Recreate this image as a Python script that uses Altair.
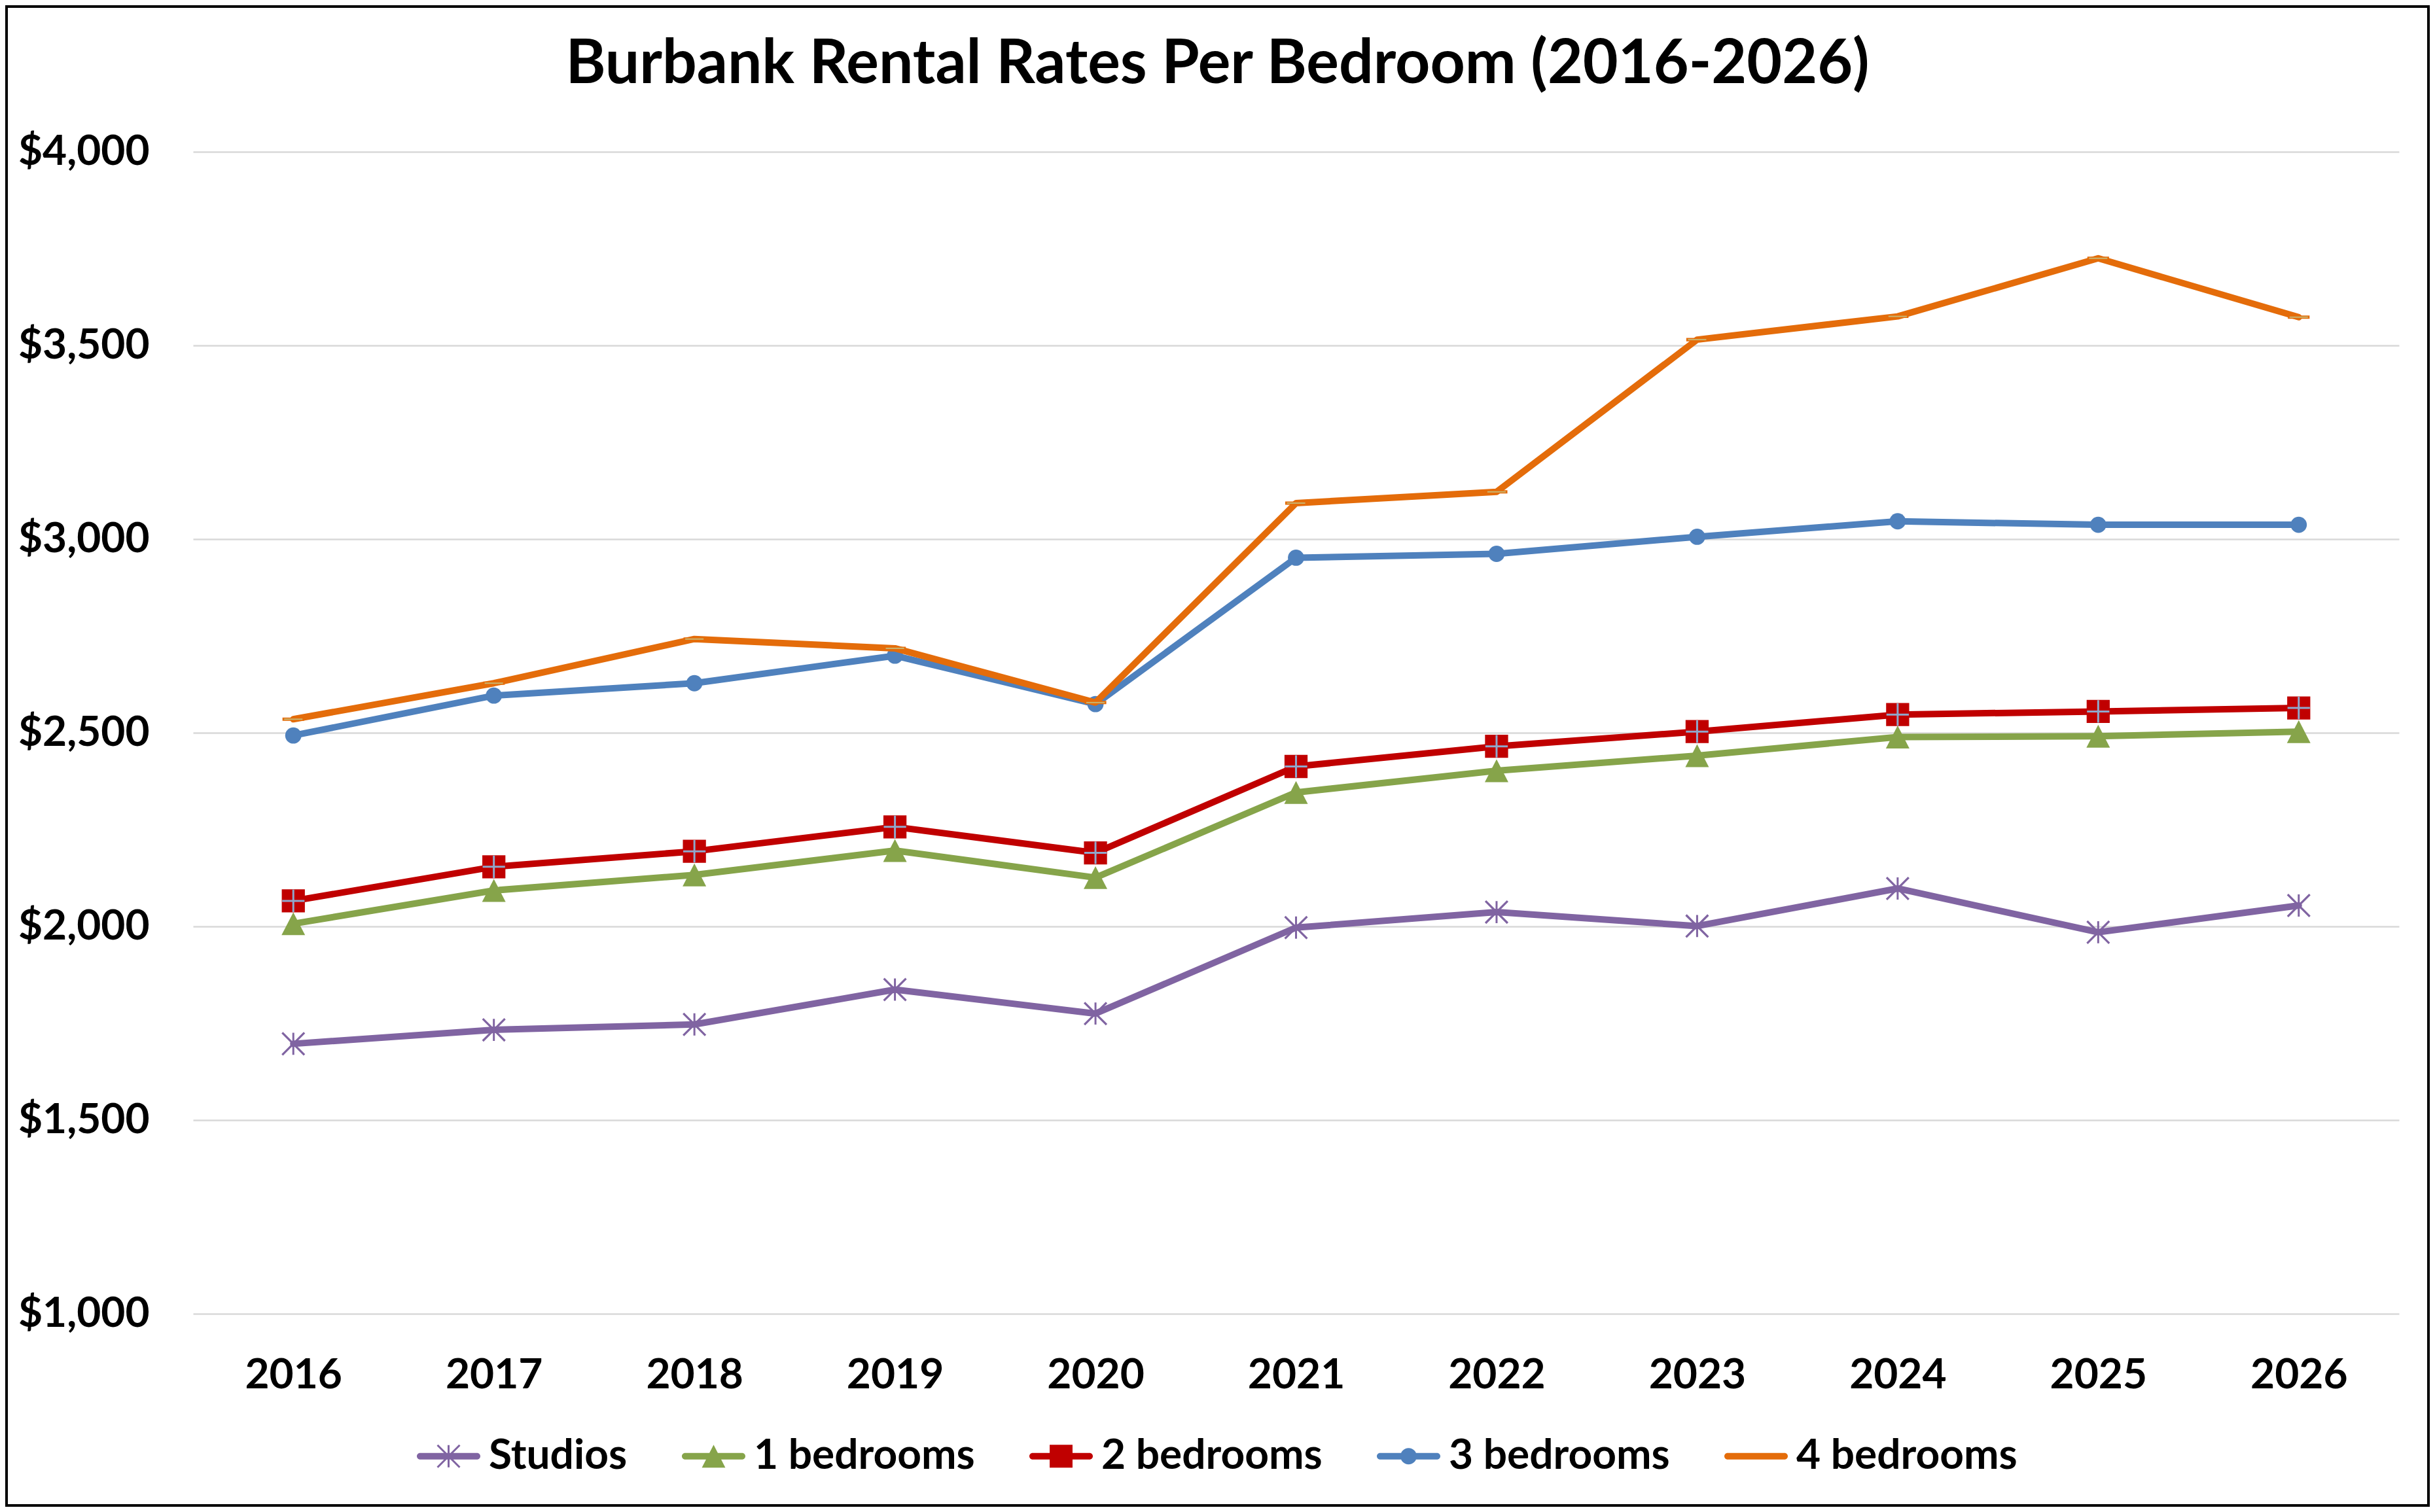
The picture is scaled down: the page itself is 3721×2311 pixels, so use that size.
import altair as alt
import pandas as pd

# ---------------- data ----------------
years = ["2016", "2017", "2018", "2019", "2020", "2021", "2022", "2023", "2024", "2025", "2026"]
series_names = ["Studios", "1 bedrooms", "2 bedrooms", "3 bedrooms", "4 bedrooms"]
studios = [1697, 1733, 1747, 1837, 1775, 1997, 2037, 2001, 2098, 1985, 2054]
bed1 = [2007, 2093, 2133, 2196, 2126, 2346, 2402, 2441, 2489, 2491, 2503]
bed2 = [2066, 2154, 2194, 2257, 2190, 2413, 2465, 2503, 2547, 2555, 2564]
bed3 = [2493, 2596, 2628, 2699, 2574, 2952, 2962, 3006, 3046, 3037, 3037]
bed4 = [2535, 2628, 2742, 2718, 2578, 3093, 3122, 3515, 3575, 3725, 3573]
y_ticks = [1000, 1500, 2000, 2500, 3000, 3500, 4000]

colors = ["#8064A2", "#86A44A", "#C00000", "#4F81BD", "#E46C0A"]

rows = []
for name, vals in zip(series_names, [studios, bed1, bed2, bed3, bed4]):
    for yr, v in zip(years, vals):
        rows.append({"year": yr, "series": name, "rent": v})
df = pd.DataFrame(rows)

# ---------------- marker shapes (plot) ----------------
asterisk = ("M-0.083,-0.94 H0.083 V0.94 H-0.083 Z "
            "M-0.876,-1.004 L1.004,0.876 L0.876,1.004 L-1.004,-0.876 Z "
            "M1.004,-0.876 L-0.876,1.004 L-1.004,0.876 L0.876,-1.004 Z")
triangle = "M0,-0.97 L1,0.97 L-1,0.97 Z"
square = "M-0.98,-0.98 H0.98 V0.98 H-0.98 Z"
circle = "M0.69,0 A0.69,0.69 0 1 1 -0.69,0 A0.69,0.69 0 1 1 0.69,0 Z"
dash = "M-0.92,-0.14 H0.92 V0.14 H-0.92 Z"
marker_paths = [asterisk, triangle, square, circle, dash]
plus_overlay = "M-0.083,-0.95 H0.083 V0.95 H-0.083 Z M-0.95,-0.083 H0.95 V0.083 H-0.95 Z"
dash_overlay = "M-0.78,-0.055 H0.78 V0.055 H-0.78 Z"

# ---------------- legend symbols (line + marker) ----------------
bar = ("M-0.897,-0.103 H0.897 A0.103,0.103 0 0 1 0.897,0.103 "
       "H-0.897 A0.103,0.103 0 0 1 -0.897,-0.103 Z")
leg_ast = (" M-0.031,-0.35 H0.031 V0.35 H-0.031 Z"
           " M-0.328,-0.372 L0.372,0.328 L0.328,0.372 L-0.372,-0.328 Z"
           " M0.372,-0.328 L-0.328,0.372 L-0.372,0.328 L0.328,-0.372 Z")
leg_tri = " M0,-0.36 L0.37,0.36 L-0.37,0.36 Z"
leg_sq = " M-0.36,-0.36 H0.36 V0.36 H-0.36 Z"
leg_circ = " M0.258,0 A0.258,0.258 0 1 1 -0.258,0 A0.258,0.258 0 1 1 0.258,0 Z"
legend_paths = [bar + leg_ast, bar + leg_tri, bar + leg_sq, bar + leg_circ, bar]

W, H = 3371, 1776
PAD = {"left": 287, "top": 224, "right": 47, "bottom": 295}

x_enc = alt.X("year:O", sort=years,
              scale=alt.Scale(type="point", padding=0.5),
              axis=alt.Axis(labelAngle=0, grid=False, labelPadding=62, title=None))
y_enc = alt.Y("rent:Q",
              scale=alt.Scale(domain=[1000, 4000], nice=False, zero=False),
              axis=alt.Axis(values=y_ticks, format="$,.0f", grid=True,
                            gridColor="#D9D9D9", gridWidth=2.5,
                            labelPadding=67, title=None))

base = alt.Chart(df).encode(x=x_enc, y=y_enc)

layers = []
# outer frame
frame = alt.Chart(alt.Data(values=[{"f": 1}])).mark_rect(
    stroke="black", strokeWidth=4, fillOpacity=0, fill="white"
).encode(
    x=alt.value(-PAD["left"] + 2), x2=alt.value(W + PAD["right"] - 2),
    y=alt.value(-PAD["top"] + 2), y2=alt.value(H + PAD["bottom"] - 2)
)
layers.append(frame)

for i, name in enumerate(series_names):
    sub = base.transform_filter(alt.datum.series == name)
    layers.append(sub.mark_line(color=colors[i], strokeWidth=10,
                                strokeJoin="round", strokeCap="round"))
    layers.append(sub.mark_point(shape=marker_paths[i], filled=True, fill=colors[i],
                                 size=1296, opacity=1, strokeWidth=0))
    if name == "2 bedrooms":
        layers.append(sub.mark_point(shape=plus_overlay, filled=True, fill="#8FA8CC",
                                     size=1296, opacity=1, strokeWidth=0))
    if name == "4 bedrooms":
        layers.append(sub.mark_point(shape=dash_overlay, filled=True, fill="#C9B670",
                                     size=1296, opacity=1, strokeWidth=0))

leg = alt.Legend(orient="none", direction="horizontal", columns=5,
                 legendX=342, legendY=1945, padding=0,
                 symbolSize=9409, symbolStrokeWidth=0, symbolOpacity=1,
                 labelFont="Lato", labelFontSize=64, labelFontWeight="bold",
                 labelColor="black", labelOffset=13, columnPadding=83,
                 labelLimit=2000)

legend_layer = base.mark_point(filled=True, opacity=0, size=10).encode(
    color=alt.Color("series:N", title=None,
                    scale=alt.Scale(domain=series_names, range=colors), legend=leg),
    shape=alt.Shape("series:N", title=None,
                    scale=alt.Scale(domain=series_names, range=legend_paths), legend=leg),
)
layers.append(legend_layer)

chart = alt.layer(*layers).properties(
    width=W, height=H, padding=PAD,
    autosize=alt.AutoSizeParams(type="none"),
    background="white",
    title=alt.Title("Burbank Rental Rates Per Bedroom (2016-2026)",
                    font="Lato", fontSize=93, fontWeight="bold", color="black",
                    anchor="middle", frame="bounds", offset=-212, baseline="alphabetic"),
).configure_view(strokeWidth=0).configure_axis(
    labelFont="Lato", labelFontSize=64, labelFontWeight="bold", labelColor="black",
    domain=False, ticks=False, tickSize=0, labelLimit=2000
)

chart.save("out.html", embed_options={"renderer": "svg", "actions": False})
